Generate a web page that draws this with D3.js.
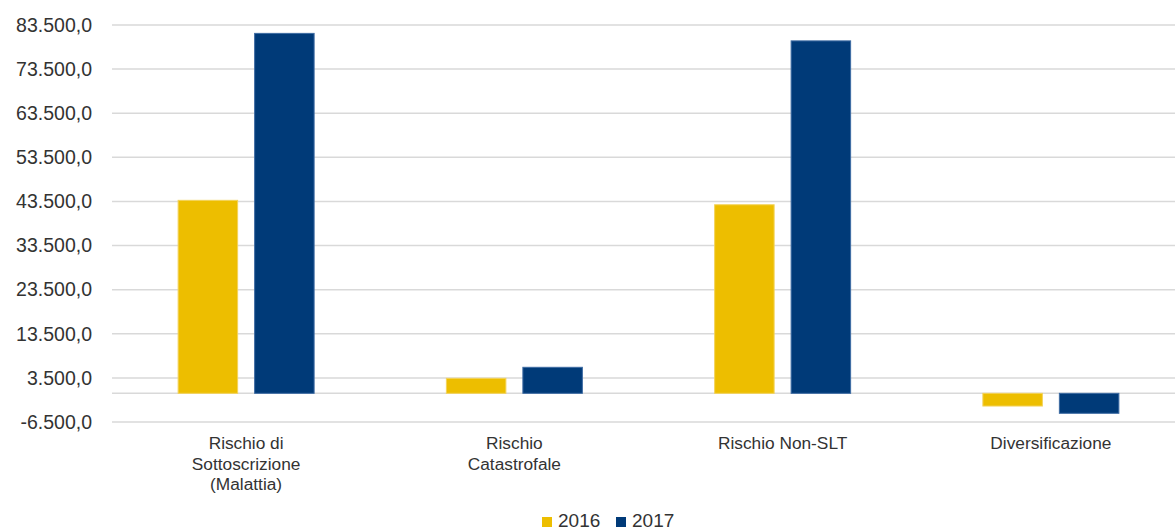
<!DOCTYPE html>
<html>
<head>
<meta charset="utf-8">
<script src="https://cdn.jsdelivr.net/npm/d3@7"></script>
<style>
  html, body { margin: 0; padding: 0; background: #fff; }
  svg { display: block; }
  text { font-family: "Liberation Sans", Arial, sans-serif; fill: #333; }
</style>
</head>
<body>
<svg id="chart" width="1175" height="531"></svg>
<script>
const categories = [
  "Rischio di\nSottoscrizione\n(Malattia)",
  "Rischio\nCatastrofale",
  "Rischio Non-SLT",
  "Diversificazione"
];
const seriesNames = ["2016", "2017"];
const values2016 = [43750, 3400, 42750, -2880];
const values2017 = [81600, 5900, 79900, -4530];
const yTicks = [-6500, 3500, 13500, 23500, 33500, 43500, 53500, 63500, 73500, 83500];
const colors = ["#EDBE00", "#003A78"];
const strokes = ["#F3D35A", "#3D6BA3"];

const svg = d3.select("#chart");
const plot = { left: 112, right: 1185, top: 25, bottom: 422 };

const locale = d3.formatLocale({ decimal: ",", thousands: ".", grouping: [3], currency: ["€", ""], minus: "-" });
const fmt = locale.format(",.1f");

const y = d3.scaleLinear().domain([-6500, 83500]).range([plot.bottom, plot.top]);
const x0 = d3.scaleBand().domain(categories).range([plot.left, plot.right]).paddingInner(0).paddingOuter(0);
const x1 = d3.scaleBand().domain(seriesNames).range([0, x0.bandwidth()]).paddingInner(0.209).paddingOuter(0.858);

// gridlines
svg.append("g").selectAll("line").data(yTicks).join("line")
  .attr("x1", plot.left).attr("x2", plot.right)
  .attr("y1", d => y(d)).attr("y2", d => y(d))
  .attr("stroke", "#d9d9d9").attr("stroke-width", 1.5);

// zero line
svg.append("line")
  .attr("x1", plot.left).attr("x2", plot.right)
  .attr("y1", y(0)).attr("y2", y(0))
  .attr("stroke", "#d9d9d9").attr("stroke-width", 1.5);

// y axis labels
const yAxis = d3.axisLeft(y).tickValues(yTicks).tickFormat(fmt).tickSize(0).tickPadding(0);
const yg = svg.append("g").attr("transform", "translate(92,0)").call(yAxis);
yg.select(".domain").remove();
yg.selectAll("text").attr("font-size", "19.5px").attr("fill", "#2b2b2b")
  .style("font-family", "'Liberation Sans', Arial, sans-serif");

// bars
const series = [values2016, values2017];
const groups = svg.append("g").selectAll("g").data(categories).join("g")
  .attr("transform", d => `translate(${x0(d)},0)`);
groups.selectAll("rect").data((d, i) => seriesNames.map((s, j) => ({ s, j, v: series[j][i] })))
  .join("rect")
  .attr("x", d => x1(d.s) + 0.5)
  .attr("width", x1.bandwidth() - 1)
  .attr("y", d => y(Math.max(0, d.v)))
  .attr("height", d => Math.abs(y(d.v) - y(0)))
  .attr("fill", d => colors[d.j])
  .attr("stroke", d => strokes[d.j])
  .attr("stroke-width", 1);

// category labels
const xg = svg.append("g");
categories.forEach(c => {
  const lines = c.split("\n");
  const cx = x0(c) + x0.bandwidth() / 2;
  const t = xg.append("text")
    .attr("x", cx)
    .attr("y", 449)
    .attr("text-anchor", "middle")
    .attr("font-size", "17.3px")
    .attr("fill", "#2b2b2b");
  lines.forEach((l, i) => {
    t.append("tspan").attr("x", cx).attr("dy", i === 0 ? 0 : 20.5).text(l);
  });
});

// legend
const legendX = [542, 616];
const lg = svg.append("g");
seriesNames.forEach((s, i) => {
  lg.append("rect").attr("x", legendX[i]).attr("y", 517).attr("width", 10).attr("height", 10).attr("fill", colors[i]);
  lg.append("text").attr("x", legendX[i] + 16).attr("y", 527).attr("font-size", "19px").attr("fill", "#2b2b2b").text(s);
});
</script>
</body>
</html>
